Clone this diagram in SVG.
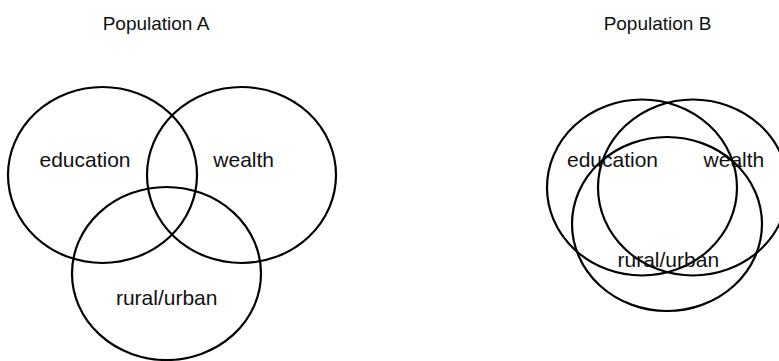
<svg xmlns="http://www.w3.org/2000/svg" width="779" height="361" viewBox="0 0 779 361">
  <style>
    .set { fill: none; stroke: #000; stroke-width: 2.2; }
    .lbl { font-family: "Liberation Sans", Arial, sans-serif; font-size: 21px; fill: #111; text-anchor: middle; }
    .title { font-family: "Liberation Sans", Arial, sans-serif; font-size: 19px; fill: #111; text-anchor: middle; }
  </style>
  <rect width="779" height="361" fill="#fff"/>
  <g id="popA">
    <text class="title" x="156" y="30">Population A</text>
    <g id="A-education">
      <ellipse class="set" cx="102.5" cy="175" rx="94.5" ry="88"/>
      <text class="lbl" x="85" y="167">education</text>
    </g>
    <g id="A-wealth">
      <ellipse class="set" cx="241.5" cy="175" rx="94.5" ry="88"/>
      <text class="lbl" x="243.7" y="167">wealth</text>
    </g>
    <g id="A-rural">
      <ellipse class="set" cx="166.5" cy="273.5" rx="94.5" ry="86.5"/>
      <text class="lbl" x="166.7" y="305">rural/urban</text>
    </g>
  </g>
  <g id="popB">
    <text class="title" x="657.5" y="30">Population B</text>
    <g id="B-education">
      <ellipse class="set" cx="642" cy="187.5" rx="95" ry="88"/>
      <text class="lbl" x="612.5" y="167">education</text>
    </g>
    <g id="B-wealth">
      <ellipse class="set" cx="693" cy="187.5" rx="95" ry="88"/>
      <text class="lbl" x="733.9" y="167">wealth</text>
    </g>
    <g id="B-rural">
      <ellipse class="set" cx="667" cy="224" rx="95" ry="87"/>
      <text class="lbl" x="668.3" y="267">rural/urban</text>
    </g>
  </g>
  <g id="connectors"/>
</svg>
